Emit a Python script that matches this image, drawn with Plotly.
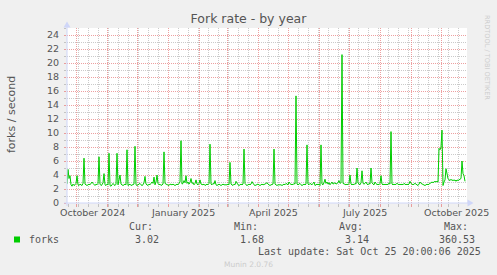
import plotly.graph_objects as go
import pandas as pd

# ---------------- data ----------------
TITLE = "Fork rate - by year"
Y_TITLE = "forks / second"
START_DAY = "2024-09-22"          # first daily sample
forks = [
    2.7, 4.8, 3.5, 3.9, 2.6, 2.4, 2.7, 2.5, 2.6, 2.8,
    3.9, 2.6, 2.5, 2.7, 2.6, 2.5, 2.8, 6.4, 2.7, 2.6,
    2.5, 2.6, 2.7, 2.6, 2.8, 3.0, 2.8, 2.6, 2.5, 2.7,
    2.6, 2.8, 6.6, 2.7, 2.5, 2.6, 2.9, 4.2, 2.6, 2.5,
    2.7, 2.6, 7.1, 2.5, 2.4, 2.6, 2.8, 2.6, 2.5, 2.7,
    7.1, 2.6, 3.2, 4.0, 2.7, 2.6, 2.5, 2.6, 2.7, 2.6,
    7.6, 2.5, 2.6, 2.7, 2.5, 2.6, 2.6, 2.7, 8.1, 2.6,
    2.5, 2.6, 2.7, 2.8, 2.6, 2.5, 2.6, 2.9, 3.8, 2.7,
    2.6, 2.5, 2.7, 2.6, 2.8, 3.0, 2.8, 3.7, 2.6, 3.0,
    4.0, 2.8, 2.6, 2.7, 2.5, 2.6, 2.7, 7.3, 2.8, 2.7,
    2.6, 2.6, 2.5, 2.7, 2.6, 2.6, 2.7, 2.6, 2.5, 2.6,
    2.7, 2.6, 2.8, 3.0, 8.9, 2.7, 2.8, 3.2, 2.9, 3.9,
    2.8, 3.0, 2.7, 2.9, 3.5, 2.8, 2.9, 2.6, 2.8, 3.3,
    2.7, 2.6, 2.8, 3.3, 2.7, 2.6, 2.6, 2.7, 2.5, 2.6,
    2.7, 2.6, 2.8, 8.4, 2.7, 2.6, 2.8, 2.7, 3.2, 2.6,
    2.5, 2.6, 2.7, 2.6, 2.5, 2.6, 2.7, 2.6, 2.6, 2.5,
    2.6, 2.7, 2.6, 5.8, 2.7, 2.6, 2.5, 2.7, 2.6, 3.1,
    2.7, 2.6, 2.5, 2.6, 2.7, 2.6, 2.7, 7.7, 2.8, 2.6,
    2.5, 2.6, 2.7, 2.6, 2.7, 3.05, 2.7, 2.6, 2.5, 2.6,
    2.6, 2.7, 2.6, 2.5, 2.6, 2.7, 2.6, 2.6, 2.7, 2.8,
    2.9, 2.7, 2.6, 2.5, 2.6, 2.6, 2.7, 7.7, 2.7, 2.6,
    2.5, 2.6, 2.6, 2.7, 2.6, 2.5, 2.6, 2.7, 2.6, 2.8,
    2.7, 2.6, 3.0, 2.7, 2.6, 2.7, 2.6, 2.8, 2.7, 15.3,
    2.7, 2.6, 2.7, 2.8, 2.6, 2.5, 2.6, 2.7, 2.6, 2.7,
    8.3, 2.7, 2.6, 2.8, 2.7, 2.6, 2.8, 3.0, 2.5, 2.6,
    2.7, 2.6, 2.7, 2.5, 8.3, 2.7, 2.6, 2.9, 3.4, 2.8,
    3.0, 2.7, 2.9, 2.6, 2.8, 3.0, 2.7, 2.8, 2.9, 2.7,
    2.8, 2.9, 3.2, 2.8, 2.9, 21.2, 2.8, 2.7, 2.6, 2.6,
    2.7, 2.6, 2.8, 4.0, 2.7, 2.6, 2.7, 2.6, 2.8, 2.7,
    5.0, 2.9, 2.7, 2.6, 2.9, 4.6, 2.8, 2.7, 2.8, 3.0,
    2.7, 2.6, 2.8, 2.7, 5.0, 2.9, 2.7, 2.6, 3.0, 2.7,
    2.6, 2.7, 2.6, 2.8, 3.9, 2.7, 2.6, 2.7, 2.6, 2.7,
    2.6, 2.7, 2.8, 2.7, 10.2, 2.7, 2.6, 2.7, 2.6, 2.7,
    2.8, 2.7, 2.6, 2.7, 2.6, 2.7, 2.6, 2.8, 2.7, 2.6,
    2.7, 2.6, 2.7, 3.1, 2.8, 2.7, 2.6, 2.7, 2.8, 2.7,
    2.6, 2.5, 2.7, 3.0, 2.8, 2.7, 2.6, 2.5, 2.5, 2.6,
    2.7, 2.6, 2.7, 2.8, 2.9, 3.0, 2.9, 3.0, 3.1, 3.0,
    3.1, 3.0, 7.8, 7.6, 8.0, 10.4, 2.5, 3.0, 3.3, 4.9,
    3.9, 3.5, 3.3, 3.2, 3.4, 3.2, 3.3, 3.2, 3.3, 3.1,
    3.3, 3.2, 3.3, 3.4, 3.5, 6.0, 4.2, 3.9, 3.1,
]
X_RANGE = ["2024-09-22 00:00", "2025-10-27 00:00"]
MONTH_GRID = ["2024-10-01", "2024-11-01", "2024-12-01", "2025-01-01", "2025-02-01",
              "2025-03-01", "2025-04-01", "2025-05-01", "2025-06-01", "2025-07-01",
              "2025-08-01", "2025-09-01", "2025-10-01"]
X_LABELS = ["October 2024", "January 2025", "April 2025", "July 2025", "October 2025"]
X_LABEL_DATES = ["2024-10-17 00:00", "2025-01-16 00:00", "2025-04-16 00:00",
                 "2025-07-16 00:00", "2025-10-16 00:00"]
Y_RANGE = [0, 25]
LEGEND_HEAD = ["Cur:", "Min:", "Avg:", "Max:"]
LEGEND_VALS = ["3.02", "1.68", "3.14", "360.53"]
SERIES_NAME = "forks"
LAST_UPDATE = "Last update: Sat Oct 25 20:00:06 2025"
FOOTER = "Munin 2.0.76"
SIDE_TEXT = "RRDTOOL / TOBI OETIKER"

# ---------------- styling ----------------
W, H = 497, 275
L, R, T, B = 67, 30, 28, 72
PW, PH = W - L - R, H - T - B
TXT = "#555555"
AXIS = "#CFD6F8"
MGRID = "rgba(230,120,120,0.7)"
GRID = "rgba(150,150,150,0.5)"
GREEN = "#00CC00"


def px(x):
    return (x - L) / PW


def py(y):
    return (H - B - y) / PH


dates = pd.date_range(START_DAY, periods=len(forks), freq="D")
# minor grid: every 10 days
minor_grid = [d for d in pd.date_range("2024-09-23", "2025-10-26", freq="10D")
              if d.strftime("%Y-%m-%d") not in MONTH_GRID]

fig = go.Figure()
fig.add_trace(go.Scatter(x=dates, y=forks, mode="lines",
                         line=dict(color=GREEN, width=1), hoverinfo="skip",
                         showlegend=False))

ann = []
for lab, d in zip(X_LABELS, X_LABEL_DATES):
    ann.append(dict(x=d, xref="x", y=py(212.5), yref="paper", text=lab,
                    showarrow=False, xanchor="center", yanchor="middle",
                    font=dict(family="DejaVu Sans", size=9.5, color=TXT)))
ann.append(dict(x=px(11), y=py(114), xref="paper", yref="paper", text=Y_TITLE,
                textangle=-90, showarrow=False, xanchor="center", yanchor="middle",
                font=dict(family="DejaVu Sans", size=11, color=TXT)))
mono = dict(family="DejaVu Sans Mono", size=10, color=TXT)
head_right = [155, 259.5, 365, 470]
val_right = [161, 266, 371, 477]
for h, xr in zip(LEGEND_HEAD, head_right):
    ann.append(dict(x=px(xr), y=py(226.7), xref="paper", yref="paper", text=h,
                    showarrow=False, xanchor="right", yanchor="middle", font=mono))
for v, xr in zip(LEGEND_VALS, val_right):
    ann.append(dict(x=px(xr), y=py(239), xref="paper", yref="paper", text=v,
                    showarrow=False, xanchor="right", yanchor="middle", font=mono))
ann.append(dict(x=px(26.5), y=py(239), xref="paper", yref="paper", text=SERIES_NAME,
                showarrow=False, xanchor="left", yanchor="middle", font=mono))
ann.append(dict(x=px(483), y=py(251.3), xref="paper", yref="paper", text=LAST_UPDATE,
                showarrow=False, xanchor="right", yanchor="middle", font=mono))
ann.append(dict(x=px(248), y=py(264), xref="paper", yref="paper", text=FOOTER,
                showarrow=False, xanchor="center", yanchor="middle",
                font=dict(family="DejaVu Sans", size=7.5, color="#CCCCCC")))
ann.append(dict(x=px(487), y=py(57), xref="paper", yref="paper", text=SIDE_TEXT,
                textangle=90, showarrow=False, xanchor="center", yanchor="middle",
                font=dict(family="DejaVu Sans", size=6.6, color="#CDCDCD")))

shapes = [
    dict(type="rect", xref="paper", yref="paper", x0=px(14), x1=px(20),
         y0=py(242.5), y1=py(236.5), fillcolor=GREEN, line=dict(width=0)),
    dict(type="line", xref="paper", yref="paper", x0=px(64), x1=px(469),
         y0=0, y1=0, line=dict(color=AXIS, width=1), layer="above"),
    dict(type="line", xref="paper", yref="paper", x0=0, x1=0,
         y0=py(206), y1=py(26), line=dict(color=AXIS, width=1), layer="above"),
    dict(type="path", xref="paper", yref="paper",
         path=f"M {px(467.5)},{py(199.5)} L {px(473.5)},{py(203)} L {px(467.5)},{py(206.5)} Z",
         fillcolor=AXIS, line=dict(width=0), layer="above"),
    dict(type="path", xref="paper", yref="paper",
         path=f"M {px(63.5)},{py(27.5)} L {px(67)},{py(21.5)} L {px(70.5)},{py(27.5)} Z",
         fillcolor=AXIS, line=dict(width=0), layer="above"),
]

fig.update_layout(
    width=W, height=H,
    margin=dict(l=L, r=R, t=T, b=B, pad=0),
    paper_bgcolor="#F0F0F0", plot_bgcolor="#FFFFFF",
    title=dict(text=TITLE, x=0.5, xref="container", xanchor="center",
               y=1 - 19 / H, yref="container", yanchor="middle",
               font=dict(family="DejaVu Sans", size=12.5, color=TXT)),
    annotations=ann, shapes=shapes,
    xaxis=dict(type="date", range=X_RANGE, showticklabels=False,
               tickvals=MONTH_GRID, ticks="outside", ticklen=3, tickcolor=MGRID,
               showgrid=True, gridcolor=MGRID, griddash="1px,1px", gridwidth=1,
               minor=dict(tickvals=minor_grid, showgrid=True, gridcolor=GRID,
                          griddash="1px,1px", ticks="outside", ticklen=3,
                          tickcolor=GRID),
               showline=False, zeroline=False, fixedrange=True),
    yaxis=dict(range=Y_RANGE, dtick=2, tick0=0, ticks="outside", ticklen=2,
               tickcolor=MGRID, ticklabelstandoff=3,
               tickfont=dict(family="DejaVu Sans", size=9.5, color=TXT),
               showgrid=True, gridcolor=MGRID, griddash="1px,1px", gridwidth=1,
               minor=dict(dtick=1, showgrid=True, gridcolor=GRID, griddash="1px,1px",
                          ticks="outside", ticklen=2, tickcolor=GRID),
               showline=False, zeroline=False, fixedrange=True),
)

fig.write_html("out.html")
